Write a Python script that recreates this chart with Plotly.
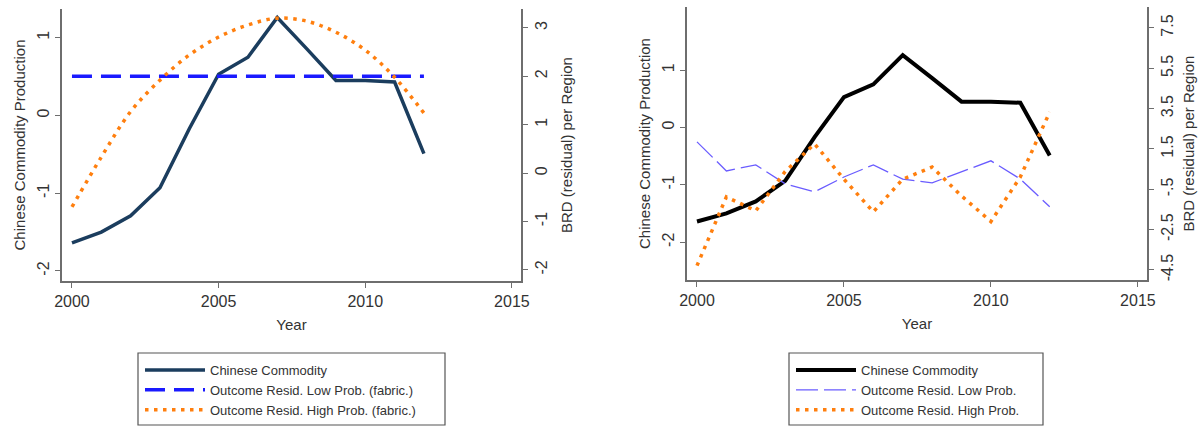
import plotly.graph_objects as go

years = list(range(2000, 2013))
commodity = [-1.64, -1.50, -1.29, -0.93, -0.17, 0.53, 0.75, 1.26, 0.86, 0.45, 0.45, 0.43, -0.49]
low_fabric = [2.0, 2.0, 2.0, 2.0, 2.0, 2.0, 2.0, 2.0, 2.0, 2.0, 2.0, 2.0, 2.0]
high_fabric = [-0.70, 0.33, 1.27, 1.92, 2.44, 2.81, 3.06, 3.20, 3.14, 2.91, 2.54, 1.98, 1.24]
low_prob = [1.85, 0.41, 0.71, -0.23, -0.63, 0.11, 0.71, 0.00, -0.18, 0.36, 0.91, 0.01, -1.37]
high_prob = [-4.29, -0.88, -1.57, 0.38, 1.75, 0.00, -1.62, 0.00, 0.60, -0.83, -2.10, 0.11, 3.33]

x_ticks = [2000, 2005, 2010, 2015]
left_ticks = [-2, -1, 0, 1]
left_text = ["-2", "-1", "0", "1"]
right1_ticks = [-2, -1, 0, 1, 2, 3]
right1_text = ["-2", "-1", "0", "1", "2", "3"]
right2_ticks = [-4.5, -2.5, -0.5, 1.5, 3.5, 5.5, 7.5]
right2_text = ["-4.5", "-2.5", "-.5", "1.5", "3.5", "5.5", "7.5"]

W, H = 1200, 428
FONT = "Liberation Sans, Arial, sans-serif"
AX = "#6e6e6e"
TXT = "#333333"

def px(x):
    return x / W

def py(y):
    return 1 - y / H

fig = go.Figure()

# Left panel
fig.add_trace(go.Scatter(x=years, y=commodity, mode="lines", name="Chinese Commodity",
                         line=dict(color="#1b3d5e", width=3.5), xaxis="x", yaxis="y", legend="legend"))
fig.add_trace(go.Scatter(x=years, y=low_fabric, mode="lines", name="Outcome Resid. Low Prob. (fabric.)",
                         line=dict(color="#1a1aff", width=3.5, dash="20px,9px"), xaxis="x", yaxis="y2", legend="legend"))
fig.add_trace(go.Scatter(x=years, y=high_fabric, mode="lines", name="Outcome Resid. High Prob. (fabric.)",
                         line=dict(color="#ff7f0e", width=3.5, dash="3.5px,5.5px", shape="spline"),
                         xaxis="x", yaxis="y2", legend="legend"))

# Right panel
fig.add_trace(go.Scatter(x=years, y=commodity, mode="lines", name="Chinese Commodity",
                         line=dict(color="#000000", width=4), xaxis="x2", yaxis="y3", legend="legend2"))
fig.add_trace(go.Scatter(x=years, y=low_prob, mode="lines", name="Outcome Resid. Low Prob.",
                         line=dict(color="#6a5cff", width=1.3, dash="22px,6px"), xaxis="x2", yaxis="y4", legend="legend2"))
fig.add_trace(go.Scatter(x=years, y=high_prob, mode="lines", name="Outcome Resid. High Prob.",
                         line=dict(color="#ff7f0e", width=3.5, dash="3.5px,5.5px"), xaxis="x2", yaxis="y4", legend="legend2"))

tickfont = dict(family=FONT, size=16, color=TXT)
titlefont = dict(family=FONT, size=15, color=TXT)

def xaxis_cfg(domain, anchor):
    return dict(domain=domain, anchor=anchor, range=[1999.66, 2015.31], tickvals=x_ticks,
                showline=True, linecolor=AX, linewidth=1.5, ticks="outside", ticklen=5, tickcolor=AX,
                showgrid=False, zeroline=False, tickfont=tickfont, automargin=False,
                title=dict(text="Year", font=titlefont, standoff=11))

def yaxis_cfg(domain, anchor, rng, vals, text, side="left", overlaying=None, title="", standoff=6):
    d = dict(domain=domain, anchor=anchor, range=rng, tickvals=vals, ticktext=text, side=side,
             showline=True, linecolor=AX, linewidth=1.5, ticks="outside", ticklen=5, tickcolor=AX,
             showgrid=False, zeroline=False, tickfont=tickfont, tickangle=-90, automargin=False,
             title=dict(text=title, font=titlefont, standoff=standoff))
    if overlaying:
        d["overlaying"] = overlaying
    return d

ld1 = [px(62), px(521)]
yd1 = [py(281), py(9)]
ld2 = [px(687), px(1147)]
yd2 = [py(280), py(7)]

fig.update_layout(
    template="none",
    width=W, height=H,
    margin=dict(l=0, r=0, t=0, b=0, autoexpand=False),
    paper_bgcolor="white", plot_bgcolor="white",
    font=dict(family=FONT, color=TXT),
    xaxis=xaxis_cfg(ld1, "y"),
    yaxis=yaxis_cfg(yd1, "x", [-2.13, 1.37], left_ticks, left_text, title="Chinese Commodity Production"),
    yaxis2=yaxis_cfg(yd1, "x", [-2.23, 3.39], right1_ticks, right1_text, side="right", overlaying="y",
                     title="BRD (residual) per Region", standoff=13),
    xaxis2=xaxis_cfg(ld2, "y3"),
    yaxis3=yaxis_cfg(yd2, "x2", [-2.66, 2.10], left_ticks, left_text, title="Chinese Commodity Production"),
    yaxis4=yaxis_cfg(yd2, "x2", [-5.0, 8.54], right2_ticks, right2_text, side="right",
                     overlaying="y3", title="BRD (residual) per Region", standoff=9),
    legend=dict(x=px(140), y=py(355), xanchor="left", yanchor="top", bgcolor="rgba(0,0,0,0)",
                font=dict(family=FONT, size=13, color=TXT), tracegroupgap=0, itemwidth=60),
    legend2=dict(x=px(791), y=py(355), xanchor="left", yanchor="top", bgcolor="rgba(0,0,0,0)",
                 font=dict(family=FONT, size=13, color=TXT), tracegroupgap=0, itemwidth=60),
    showlegend=True,
    shapes=[
        dict(type="rect", xref="paper", yref="paper", x0=px(138), x1=px(445), y0=py(425), y1=py(353),
             line=dict(color="#555555", width=1.2)),
        dict(type="rect", xref="paper", yref="paper", x0=px(789), x1=px(1043), y0=py(425), y1=py(353),
             line=dict(color="#555555", width=1.2)),
    ],
)

fig.write_html("out.html")
